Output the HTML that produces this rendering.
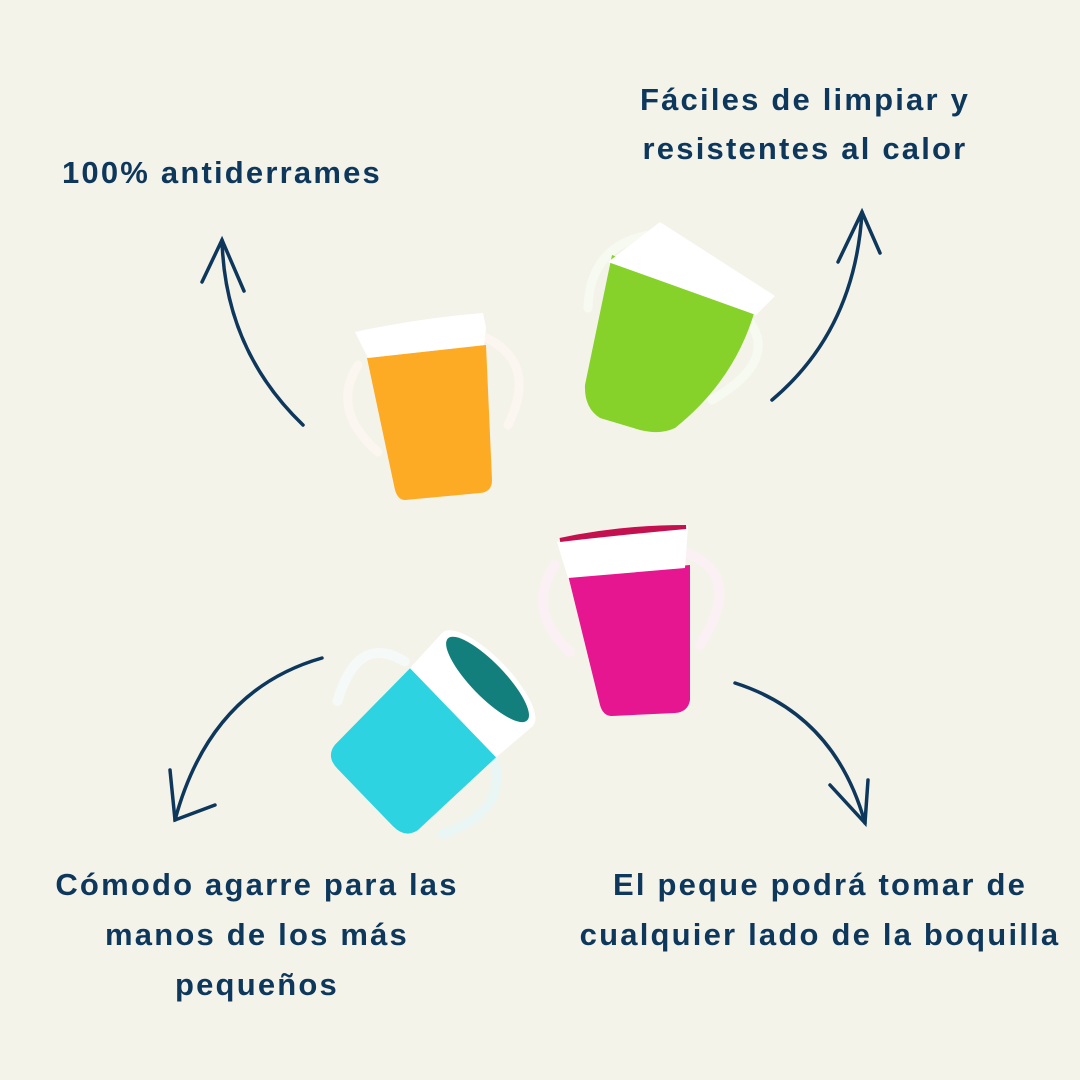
<!DOCTYPE html>
<html><head><meta charset="utf-8"><style>
html,body{margin:0;padding:0;background:#f4f3ea;}
svg{display:block}
text{font-family:"Liberation Sans",sans-serif;font-size:31px;fill:#0e375c;text-anchor:middle;letter-spacing:2.2px;font-weight:bold}
</style></head><body>
<svg width="1080" height="1080" viewBox="0 0 1080 1080">
<rect width="1080" height="1080" fill="#f4f3ea"/>
<text x="222" y="183">100% antiderrames</text>
<text x="805" y="110">Fáciles de limpiar y</text>
<text x="805" y="159">resistentes al calor</text>
<text x="257" y="895">Cómodo agarre para las</text>
<text x="257" y="945">manos de los más</text>
<text x="257" y="995">pequeños</text>
<text x="820" y="895">El peque podrá tomar de</text>
<text x="820" y="945">cualquier lado de la boquilla</text>

<g fill="none" stroke="#0e375c" stroke-width="3.5" stroke-linecap="round">
<path d="M303 425 Q225 350 222 240"/><path d="M202 282 L222 240 L244 291"/>
<path d="M772 400 Q855 330 862 212"/><path d="M838 262 L862 212 L880 253"/>
<path d="M322 658 Q210 690 175 820"/><path d="M170 770 L175 820 L215 805"/>
<path d="M735 683 Q835 715 865 823"/><path d="M830 785 L865 823 L868 780"/>
</g>

<!-- orange cup -->
<g>
<path d="M358 365 Q330 410 378 452" fill="none" stroke="#fbf6ef" stroke-width="9" stroke-linecap="round"/>
<path d="M480 335 Q540 360 508 425" fill="none" stroke="#fbf6ef" stroke-width="9" stroke-linecap="round"/>
<path d="M367 358 L486 345 L492 480 Q492 492 480 493 L405 500 Q398 500 395 490 Z" fill="#fdaa25"/>
<path d="M355 332 Q420 318 483 313 L486 328 L484 345 L368 358 Z" fill="#ffffff"/>
</g>

<!-- green cup -->
<g>
<path d="M650 235 Q590 245 588 308" fill="none" stroke="#f7faf0" stroke-width="9" stroke-linecap="round"/>
<path d="M748 320 Q780 360 712 400" fill="none" stroke="#f7faf0" stroke-width="9" stroke-linecap="round"/>
<path d="M612 255 L755 310 Q735 380 675 428 Q660 435 640 430 L600 418 Q584 408 585 385 Z" fill="#86d12a"/>
<path d="M660 222 L775 296 L756 315 L608 262 Z" fill="#ffffff"/>
</g>

<!-- pink cup -->
<g>
<path d="M555 565 Q525 610 570 652" fill="none" stroke="#fbf0f4" stroke-width="10" stroke-linecap="round"/>
<path d="M686 553 Q745 575 700 645" fill="none" stroke="#fbf0f4" stroke-width="10" stroke-linecap="round"/>
<path d="M568 575 L690 565 L690 700 Q688 712 675 713 L612 716 Q603 716 600 705 Z" fill="#e5168f"/>
<path d="M557 542 Q620 528 688 526 L685 568 L568 578 Z" fill="#ffffff"/>
<path d="M560 540 Q620 527 686 527 Q620 533 560 540 Z" fill="#c4104f" stroke="#c4104f" stroke-width="4"/>
</g>

<!-- teal cup -->
<g transform="translate(430,735) rotate(46)">
<path d="M-55 -55 Q-110 -60 -98 10" fill="none" stroke="#f5f9f8" stroke-width="10" stroke-linecap="round" transform="rotate(-20)"/>
<path d="M60 -30 Q110 -5 80 60" fill="none" stroke="#e9f6f4" stroke-width="10" stroke-linecap="round"/>
<path d="M-62 -35 L62 -35 L60 75 Q57 90 40 90 L-40 90 Q-57 90 -59 75 Z" fill="#2dd3e0"/>
<path d="M-65 -80 L65 -80 L62 -32 L-62 -32 Z" fill="#ffffff"/>
<ellipse cx="0" cy="-80" rx="65" ry="22" fill="#ffffff"/>
<ellipse cx="0" cy="-80" rx="57" ry="17" fill="#137f7d"/>
</g>
</svg>
</body></html>
